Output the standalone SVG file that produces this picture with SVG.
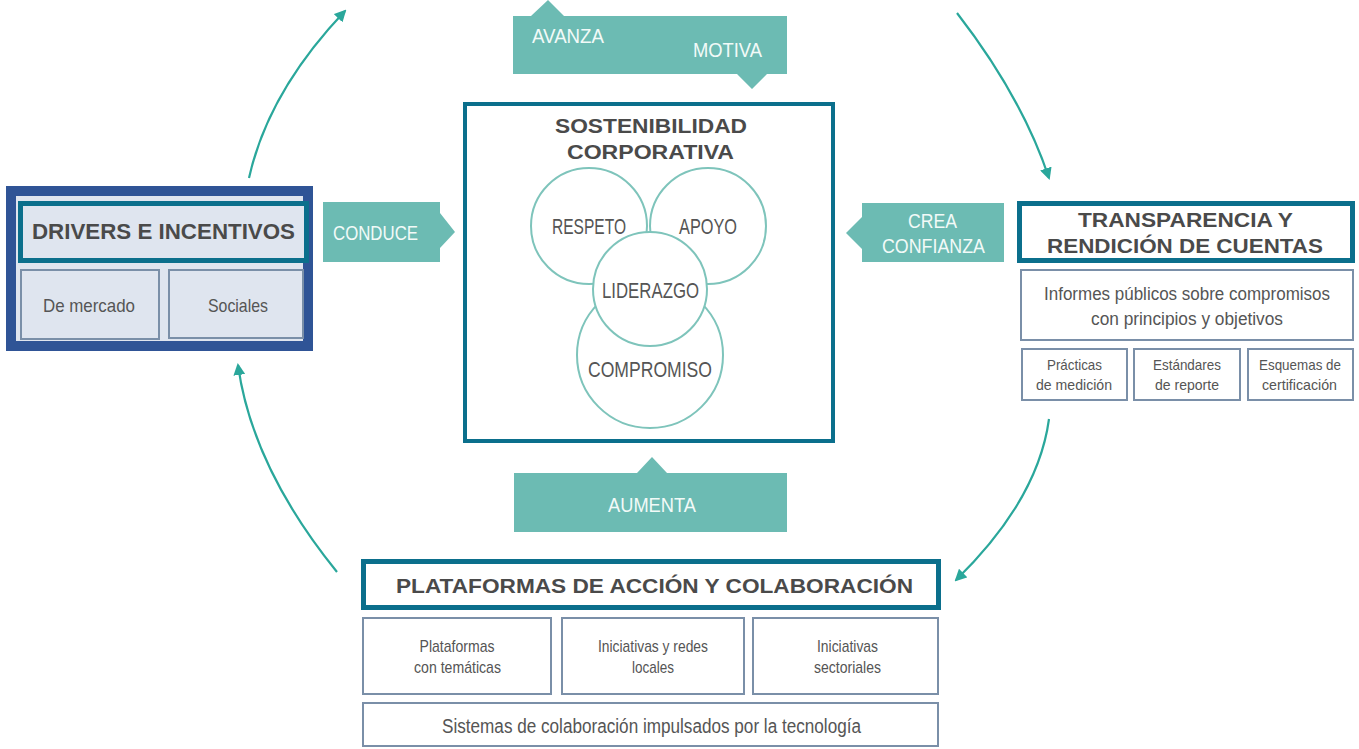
<svg xmlns="http://www.w3.org/2000/svg" width="1359" height="749" viewBox="0 0 1359 749">
<style>
.hdr{font-family:"Liberation Sans",Arial,sans-serif;font-weight:bold;fill:#4a4a4a;text-anchor:middle}
.cond{font-family:"Liberation Sans Narrow","Liberation Sans",Arial,sans-serif;text-anchor:middle;fill:#555}
.lbl{font-family:"Liberation Sans Narrow","Liberation Sans",Arial,sans-serif;fill:#f2faf8;font-size:21px}
.teal{fill:#6cbbb3}
.hbox{fill:#fff;stroke:#0b6f8c;stroke-width:5}
.sub{fill:#fff;stroke:#7a8fa8;stroke-width:2}
.circ{fill:#fff;stroke:#7ec4bb;stroke-width:2}
.conn{fill:none;stroke:#2aa79b;stroke-width:2.2}
</style>
<defs>
<marker id="ah" viewBox="0 0 12 12" refX="10" refY="6" markerWidth="12" markerHeight="12" markerUnits="userSpaceOnUse" orient="auto">
<path d="M0,0 L12,6 L0,12 Z" fill="#2aa79b"/>
</marker>
</defs>
<rect width="1359" height="749" fill="#fff"/>

<g id="connectors">
<path class="conn" d="M249,178 Q268,92 345,11" marker-end="url(#ah)"/>
<path class="conn" d="M957,13 Q1022,97 1049,178" marker-end="url(#ah)"/>
<path class="conn" d="M337,572 Q252,467 238,365" marker-end="url(#ah)"/>
<path class="conn" d="M1049,419 Q1038,500 956,580" marker-end="url(#ah)"/>
</g>

<g id="drivers">
<rect x="11" y="191" width="297" height="155" fill="#dfe5ef" stroke="#2f5496" stroke-width="10"/>
<rect x="20.5" y="203.5" width="286" height="57" fill="#dfe5ef" stroke="#0b6f8c" stroke-width="5"/>
<text class="hdr" x="163.5" y="239" font-size="22" textLength="263" lengthAdjust="spacingAndGlyphs">DRIVERS E INCENTIVOS</text>
<rect x="21" y="270" width="138" height="69" fill="#dfe5ef" stroke="#7a8fa8" stroke-width="2"/>
<rect x="169" y="270" width="134" height="68" fill="#dfe5ef" stroke="#7a8fa8" stroke-width="2"/>
<text class="cond" x="89" y="312" font-size="18.5" textLength="92" lengthAdjust="spacingAndGlyphs">De mercado</text>
<text class="cond" x="238" y="312" font-size="18.5" textLength="60" lengthAdjust="spacingAndGlyphs">Sociales</text>
</g>

<g id="avanza-motiva">
<path class="teal" d="M513,16 L531,16 L548,0 L564,16 L787,16 L787,74 L767,74 L752,89 L737,74 L513,74 Z"/>
<text class="lbl" x="532" y="43" textLength="72" lengthAdjust="spacingAndGlyphs">AVANZA</text>
<text class="lbl" x="693" y="57" textLength="69" lengthAdjust="spacingAndGlyphs">MOTIVA</text>
</g>

<g id="conduce">
<path class="teal" d="M323,202 L440,202 L440,213 L455,232 L440,248 L440,262 L323,262 Z"/>
<text class="lbl" x="333" y="240" textLength="85" lengthAdjust="spacingAndGlyphs">CONDUCE</text>
</g>

<g id="sostenibilidad">
<rect x="465" y="104" width="368" height="337" fill="#fff" stroke="#0b6f8c" stroke-width="4"/>
<text class="hdr" x="651" y="133" font-size="21" textLength="192" lengthAdjust="spacingAndGlyphs">SOSTENIBILIDAD</text>
<text class="hdr" x="650.5" y="159" font-size="21" textLength="167" lengthAdjust="spacingAndGlyphs">CORPORATIVA</text>
<circle class="circ" cx="650" cy="355" r="73"/>
<circle class="circ" cx="589" cy="226" r="58"/>
<circle class="circ" cx="708" cy="226" r="58"/>
<circle class="circ" cx="650" cy="289" r="57"/>
<text class="cond" x="589" y="234" font-size="22" textLength="74" lengthAdjust="spacingAndGlyphs">RESPETO</text>
<text class="cond" x="708" y="234" font-size="22" textLength="58" lengthAdjust="spacingAndGlyphs">APOYO</text>
<text class="cond" x="650.5" y="298" font-size="22" textLength="97" lengthAdjust="spacingAndGlyphs">LIDERAZGO</text>
<text class="cond" x="650" y="377" font-size="22" textLength="124" lengthAdjust="spacingAndGlyphs">COMPROMISO</text>
</g>

<g id="crea-confianza">
<path class="teal" d="M862,203 L1004,203 L1004,262 L862,262 L862,249 L846,233 L862,217 Z"/>
<text class="lbl" x="932.5" y="228" text-anchor="middle" textLength="49" lengthAdjust="spacingAndGlyphs">CREA</text>
<text class="lbl" x="933.5" y="253" text-anchor="middle" textLength="103" lengthAdjust="spacingAndGlyphs">CONFIANZA</text>
</g>

<g id="transparencia">
<rect class="hbox" x="1019.5" y="203.5" width="333" height="57"/>
<text class="hdr" x="1185.5" y="227" font-size="20" textLength="215" lengthAdjust="spacingAndGlyphs">TRANSPARENCIA Y</text>
<text class="hdr" x="1185" y="253" font-size="20" textLength="276" lengthAdjust="spacingAndGlyphs">RENDICIÓN DE CUENTAS</text>
<rect class="sub" x="1021" y="270" width="332" height="70"/>
<text class="cond" x="1187" y="300" font-size="17.5" textLength="286" lengthAdjust="spacingAndGlyphs">Informes públicos sobre compromisos</text>
<text class="cond" x="1187" y="325" font-size="17.5" textLength="192" lengthAdjust="spacingAndGlyphs">con principios y objetivos</text>
<rect class="sub" x="1022" y="349" width="105" height="51"/>
<rect class="sub" x="1134" y="349" width="106" height="51"/>
<rect class="sub" x="1248" y="349" width="105" height="51"/>
<text class="cond" x="1074.5" y="370" font-size="15" textLength="55" lengthAdjust="spacingAndGlyphs">Prácticas</text>
<text class="cond" x="1074" y="390" font-size="15" textLength="76" lengthAdjust="spacingAndGlyphs">de medición</text>
<text class="cond" x="1187" y="370" font-size="15" textLength="68" lengthAdjust="spacingAndGlyphs">Estándares</text>
<text class="cond" x="1187" y="390" font-size="15" textLength="64" lengthAdjust="spacingAndGlyphs">de reporte</text>
<text class="cond" x="1300" y="370" font-size="15" textLength="82" lengthAdjust="spacingAndGlyphs">Esquemas de</text>
<text class="cond" x="1299.5" y="390" font-size="15" textLength="75" lengthAdjust="spacingAndGlyphs">certificación</text>
</g>

<g id="aumenta">
<path class="teal" d="M514,473 L637,473 L652,457 L667,473 L787,473 L787,532 L514,532 Z"/>
<text class="lbl" x="652" y="512" text-anchor="middle" textLength="88" lengthAdjust="spacingAndGlyphs">AUMENTA</text>
</g>

<g id="plataformas">
<rect class="hbox" x="363.5" y="561.5" width="575" height="46"/>
<text class="hdr" x="654.5" y="593" font-size="21" textLength="517" lengthAdjust="spacingAndGlyphs">PLATAFORMAS DE ACCIÓN Y COLABORACIÓN</text>
<rect class="sub" x="363" y="618" width="188" height="76"/>
<rect class="sub" x="562" y="618" width="182" height="76"/>
<rect class="sub" x="753" y="618" width="185" height="76"/>
<text class="cond" x="457" y="652" font-size="17" textLength="75" lengthAdjust="spacingAndGlyphs">Plataformas</text>
<text class="cond" x="457.5" y="673" font-size="17" textLength="87" lengthAdjust="spacingAndGlyphs">con temáticas</text>
<text class="cond" x="653" y="652" font-size="17" textLength="110" lengthAdjust="spacingAndGlyphs">Iniciativas y redes</text>
<text class="cond" x="653" y="673" font-size="17" textLength="42" lengthAdjust="spacingAndGlyphs">locales</text>
<text class="cond" x="847.5" y="652" font-size="17" textLength="61" lengthAdjust="spacingAndGlyphs">Iniciativas</text>
<text class="cond" x="847.5" y="673" font-size="17" textLength="67" lengthAdjust="spacingAndGlyphs">sectoriales</text>
<rect class="sub" x="363" y="703" width="575" height="43"/>
<text class="cond" x="651.5" y="733" font-size="20" textLength="419" lengthAdjust="spacingAndGlyphs">Sistemas de colaboración impulsados por la tecnología</text>
</g>
</svg>
